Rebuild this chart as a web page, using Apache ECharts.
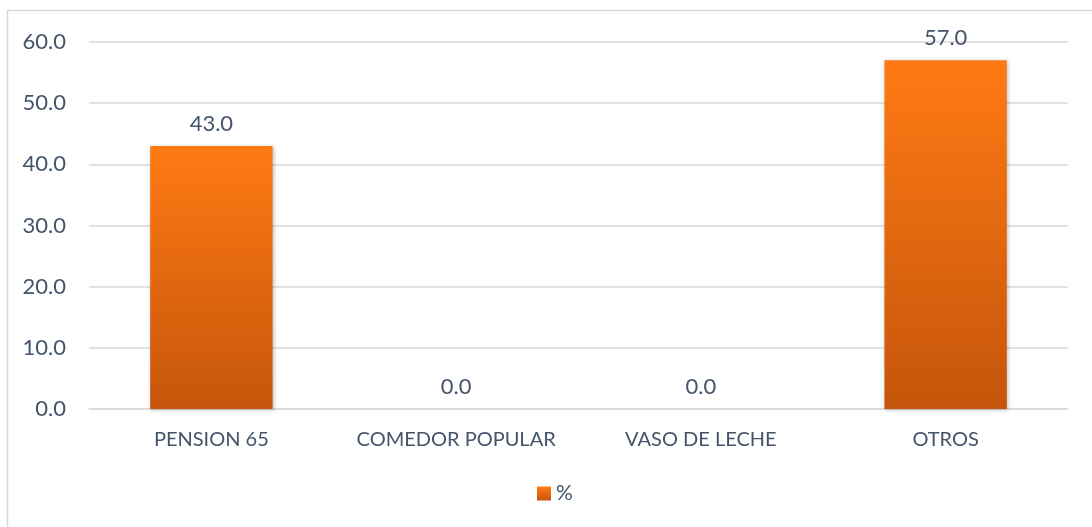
<!DOCTYPE html>
<html>
<head>
<meta charset="utf-8">
<script src="https://cdn.jsdelivr.net/npm/echarts@6/dist/echarts.min.js"></script>
<style>
  html, body { margin: 0; padding: 0; background: #fff; }
  #chart { width: 1092px; height: 527px; }
</style>
</head>
<body>
<div id="chart"></div>
<script>
const categories = ['PENSION 65', 'COMEDOR POPULAR', 'VASO DE LECHE', 'OTROS']
const percentValues = [43.0, 0.0, 0.0, 57.0]
const seriesName = '%'

const textColor = '#44546A'
const fontFamily = 'Lato, "Open Sans", sans-serif'

const barColor = new echarts.graphic.LinearGradient(0, 0, 0, 1, [
  { offset: 0, color: '#FF7A14' },
  { offset: 1, color: '#C5550B' }
])

const myChart = echarts.init(document.getElementById('chart'))
myChart.setOption({
  animation: false,
  graphic: [{
    type: 'rect',
    shape: { x: 7.5, y: 10.5, width: 1100, height: 540 },
    style: { fill: 'none', stroke: '#D9D9D9', lineWidth: 1.5 },
    silent: true
  }],
  grid: {
    left: 89,
    right: 24,
    top: 42,
    bottom: 118
  },
  legend: {
    bottom: 18,
    left: 532,
    itemWidth: 14,
    itemHeight: 14,
    itemGap: 5,
    textStyle: { color: textColor, fontSize: 21, fontFamily: fontFamily },
    data: [{ name: seriesName, icon: 'rect' }]
  },
  xAxis: {
    type: 'category',
    data: categories,
    axisLine: { show: true, lineStyle: { color: '#D9D9D9', width: 1.5 } },
    axisTick: { show: false },
    axisLabel: {
      interval: 0,
      hideOverlap: false,
      color: textColor,
      fontSize: 20,
      fontFamily: fontFamily,
      margin: 21
    }
  },
  yAxis: {
    type: 'value',
    min: 0,
    max: 60,
    interval: 10,
    axisLine: { show: false },
    axisTick: { show: false },
    splitLine: { lineStyle: { color: '#D9D9D9', width: 1.5 } },
    axisLabel: {
      color: textColor,
      fontSize: 22,
      fontFamily: fontFamily,
      margin: 23,
      formatter: v => v.toFixed(1)
    }
  },
  series: [{
    name: seriesName,
    type: 'bar',
    data: percentValues,
    barWidth: '50%',
    itemStyle: {
      color: barColor,
      shadowColor: 'rgba(0,0,0,0.25)',
      shadowBlur: 4,
      shadowOffsetX: 1,
      shadowOffsetY: 1
    },
    label: {
      show: true,
      position: 'top',
      distance: 11,
      color: textColor,
      fontSize: 22,
      fontFamily: fontFamily,
      formatter: p => p.value.toFixed(1)
    }
  }]
})
</script>
</body>
</html>
